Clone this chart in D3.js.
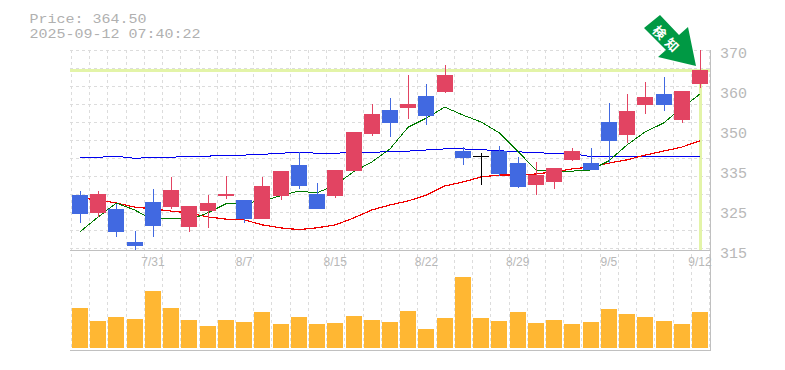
<!DOCTYPE html>
<html><head><meta charset="utf-8">
<script src="https://cdn.jsdelivr.net/npm/d3@7/dist/d3.min.js"></script>
<style>html,body{margin:0;padding:0;background:#fff}svg{display:block}</style>
</head><body><div id="c"></div>
<script>
const dates=["7/25","7/28","7/29","7/30","7/31","8/1","8/4","8/5","8/6","8/7","8/8","8/12","8/13","8/14","8/15","8/18","8/19","8/20","8/21","8/22","8/25","8/26","8/27","8/28","8/29","9/1","9/2","9/3","9/4","9/5","9/8","9/9","9/10","9/11","9/12"];
const dateLabels=["7/31","8/7","8/15","8/22","8/29","9/5","9/12"];
const open=[330.1,325.2,326.3,317.2,328.2,326.8,321.3,325.7,329.9,328.8,323.5,329.9,338.4,330.4,329.9,336.7,346.9,353.5,354.1,357.4,358.5,342.2,340.9,342.2,338.9,332.9,333.7,339.8,338.9,350.2,346.6,354.9,357.9,350.8,360.7];
const high=[331.2,331.2,327.6,320.2,331.8,335.1,327.1,330.1,335.4,328.8,335.1,336.7,342,333.4,337,347.5,355.2,356.8,363.1,360.7,365.9,343.3,341.7,343.6,340.6,339.2,337.6,343,343,355.4,357.9,361.2,362.6,358.7,370];
const low=[322.4,324.1,318.6,314.9,318.6,326.3,320,321.1,329,322.4,323.5,328.8,331.8,326.3,329.3,336.7,346.4,346.1,351,349.4,358.2,338.4,332.9,335.4,332,330.1,331.8,339.5,337,338.9,344.4,352.4,353.2,349.9,359.6];
const close=[324.9,330.4,320,316.1,321.6,331.5,327.1,327.9,330.4,323.5,332.6,336.7,332.6,326.3,337,347.5,352.4,349.9,355.2,351.9,363.1,340.3,340.9,335.9,332.3,335.6,337.6,342.2,337,345,353.2,357.1,354.9,358.7,364.5];
const volume=[40,27,31,29,57,40,28,22,28,26,36,24,31,24,25,32,28,26,37,19,30,71,30,27,36,25,28,24,26,39,34,31,27,24,36];
const maShort=[320,324.1,327.9,326,323.3,323.8,323.3,325.2,327.7,327.9,328.5,329.9,331.2,330.7,332.9,336.5,339.2,342.8,348.8,351.3,354.3,352.1,350.2,347.2,342.2,337,336.7,336.7,337,339.5,343.9,347.5,349.9,354.1,357.9];
const maMid=[329.3,328.8,327.9,326.8,326.3,325.7,325.2,324.1,323.5,323.3,321.9,321.1,320.6,321.1,321.9,323.8,326,327.4,328.5,330.1,332.6,333.7,335.1,335.6,335.6,335.9,336.5,337.3,337.8,338.9,339.8,341.1,342.2,343.3,345];
const maLong=[340.5,340.5,340.8,340.2,340.5,340.5,340.8,340.8,341.1,341.1,341.3,341.6,341.9,341.6,341.6,341.9,341.9,342,342.2,342.5,342.8,342.8,342.6,342.3,342,341.8,341.5,341.5,340.7,340.7,340.7,340.7,340.7,340.7,340.7];
const priceTicks=[370,360,350,335,325,315];
const lastPrice=364.5;
const titleLines=["Price: 364.50","2025-09-12 07:40:22"];
const badge=["検","知"];

const W=785,H=370,L=70,R=710,T=50,B=250,VB=348,VT=248,END=350;
const svg=d3.select("#c").append("svg").attr("width",W).attr("height",H).attr("viewBox",`0 0 ${W} ${H}`);
const x=d3.scalePoint().domain(dates).range([80,700]);
const y=d3.scaleLinear().domain([315,370]).range([B,T]);
const v=d3.scaleLinear().domain([0,100]).range([VB,VT]);
const tickY=d3.scalePoint().domain(priceTicks).range([T,B]);
const step=x.step();
const mono="'Liberation Mono',monospace";
const gridC="#dcdcdc",axisC="#c0c0c0",txtC="#b8b8b8";
const px=a=>Math.round(a)+.5;

// grid
const g=svg.append("g").attr("shape-rendering","crispEdges");
const gridX=dates.map(d=>x(d)-step/2).concat([x(dates[34])+step/2]);
g.selectAll(".gx").data(gridX).join("line").attr("x1",px).attr("x2",px).attr("y1",T).attr("y2",END)
 .attr("stroke",gridC).attr("stroke-dasharray","3,3");
g.selectAll(".gy").data(d3.range(T,B,18)).join("line").attr("x1",L).attr("x2",R).attr("y1",px).attr("y2",px)
 .attr("stroke",gridC).attr("stroke-dasharray","3,3");
// frame
g.append("line").attr("x1",L).attr("x2",R).attr("y1",B+.5).attr("y2",B+.5).attr("stroke",axisC);
g.append("line").attr("x1",L).attr("x2",R).attr("y1",END+.5).attr("y2",END+.5).attr("stroke",axisC);
g.append("line").attr("x1",R+.5).attr("x2",R+.5).attr("y1",T).attr("y2",END+1).attr("stroke",axisC);

// last price cross
const lastD=dates[34];
g.append("rect").attr("x",L).attr("width",R-L).attr("y",y(lastPrice)-1.5).attr("height",3).attr("fill","#e3f4a8");
g.append("rect").attr("x",x(lastD)-1.5).attr("width",3).attr("y",y(lastPrice)).attr("height",B-y(lastPrice)).attr("fill","#e3f4a8");

// volume
const vg=svg.append("g").attr("shape-rendering","crispEdges");
vg.selectAll("rect").data(dates).join("rect").attr("x",d=>Math.round(x(d)-8)).attr("width",16)
 .attr("y",(d,i)=>v(volume[i])).attr("height",(d,i)=>VB-v(volume[i])).attr("fill","#ffb733");

// moving averages
const ln=a=>d3.line().x((d,i)=>x(dates[i])).y(d=>y(d))(a);
const ma=svg.append("g").attr("shape-rendering","crispEdges").attr("fill","none");
ma.append("path").attr("d",ln(maLong)).attr("stroke","#0000ee").attr("stroke-width",1);
ma.append("path").attr("d",ln(maMid)).attr("stroke","#f00000").attr("stroke-width",1.2);
ma.append("path").attr("d",ln(maShort)).attr("stroke","#007a00").attr("stroke-width",1);

// candles (above the averages)
const c=svg.append("g").attr("shape-rendering","crispEdges");
const col=i=>close[i]>open[i]?"#e24462":close[i]<open[i]?"#4169e1":"#000";
c.selectAll(".w").data(dates).join("rect").attr("class","w").attr("x",d=>Math.round(x(d))).attr("width",1)
 .attr("y",(d,i)=>y(high[i])).attr("height",(d,i)=>y(low[i])-y(high[i])).attr("fill",(d,i)=>col(i));
c.selectAll(".b").data(dates).join("rect").attr("class","b").attr("x",d=>Math.round(x(d)-8)).attr("width",16)
 .attr("y",(d,i)=>y(Math.max(open[i],close[i])))
 .attr("height",(d,i)=>Math.max(1,Math.abs(y(open[i])-y(close[i])))).attr("fill",(d,i)=>col(i));

// axis labels
svg.selectAll(".pt").data(priceTicks).join("text").attr("class","pt").attr("x",720).attr("y",d=>tickY(d)+8)
 .attr("font-family",mono).attr("font-size",15).attr("fill",txtC).text(d=>d);
svg.selectAll(".dt").data(dateLabels).join("text").attr("class","dt").attr("x",d=>x(d)).attr("y",266).attr("text-anchor","middle")
 .attr("font-family","'Liberation Sans',sans-serif").attr("font-size",12).attr("fill",txtC).text(d=>d);
// title
svg.selectAll(".tt").data(titleLines).join("text").attr("class","tt").attr("x",29.5).attr("y",(d,i)=>23+i*15)
 .attr("font-family",mono).attr("font-size",13.2).attr("fill","#b0b0b0")
 .attr("textLength",d=>d.length*9).attr("lengthAdjust","spacingAndGlyphs").text(d=>d);

// arrow badge
svg.append("polygon").attr("points","660,15 679,35 688,27 696,66 658,57 666,50 644,28").attr("fill","#009944");
badge.forEach((t,i)=>svg.append("text").attr("transform",`translate(${660+i*12.5},${32+i*12.5}) rotate(45)`)
 .attr("text-anchor","middle").attr("dominant-baseline","central").attr("font-family","'Noto Sans CJK JP',sans-serif")
 .attr("font-size",13).attr("font-weight",700).attr("fill","#fff").text(t));
</script></body></html>
